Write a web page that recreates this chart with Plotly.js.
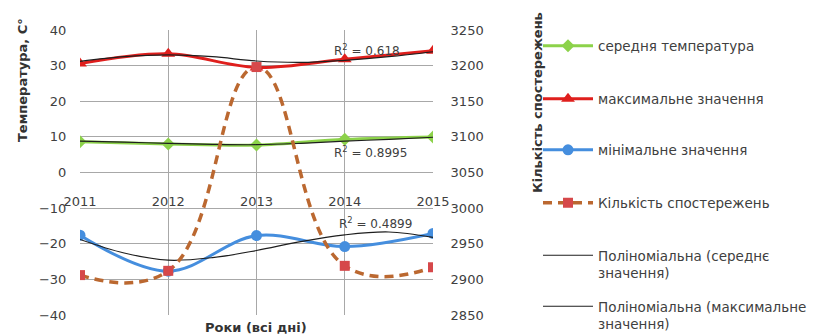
<!DOCTYPE html>
<html>
<head>
<meta charset="utf-8">
<script src="https://cdn.plot.ly/plotly-3.0.1.min.js"></script>
<style>html,body{margin:0;padding:0;background:#fff;}#chart{width:814px;height:336px;}</style>
</head>
<body>
<div id="chart"></div>
<script>
// Data
const years = [2011, 2012, 2013, 2014, 2015];
const meanTemp = [8.6, 8.0, 7.7, 9.3, 10.0];
const maxTemp = [30.6, 33.3, 29.5, 31.8, 34.2];
const minTemp = [-17.6, -27.7, -17.7, -20.8, -17.1];
const obsCount = [2906, 2912, 3198, 2919, 2917];

// Polynomial trendlines as they appear in the picture (sampled every half year)
const trendX = [2011, 2011.5, 2012, 2012.5, 2013, 2013.5, 2014, 2014.5, 2015];
const trendMean = [8.8, 8.5, 8.2, 7.9, 7.8, 8.2, 8.8, 9.3, 9.9];
const trendMax = [31.2, 32.5, 33.0, 32.5, 31.3, 30.9, 31.5, 32.5, 33.9];
const trendMin = [-18.8, -22.6, -24.6, -23.9, -21.9, -19.4, -17.5, -16.7, -18.2];

const yTicks = [-40, -30, -20, -10, 0, 10, 20, 30, 40];
const y2Ticks = [2850, 2900, 2950, 3000, 3050, 3100, 3150, 3200, 3250];

const names = {
  mean: 'середня температура',
  max: 'максимальне значення',
  min: 'мінімальне значення',
  count: 'Кількість спостережень',
  trMean: 'Поліноміальна (середнє<br>значення)',
  trMax: 'Поліноміальна (максимальне<br>значення)'
};
const r2Labels = ['R<sup>2</sup> = 0.618', 'R<sup>2</sup> = 0.8995', 'R<sup>2</sup> = 0.4899'];

const FONT = 'DejaVu Sans, sans-serif';
const TXT = '#404040';
const W = 814, H = 336;

const traces = [
  {x: years, y: meanTemp, name: names.mean, type: 'scatter', mode: 'lines+markers',
   line: {color: '#8cd24a', width: 3, shape: 'spline'}, marker: {symbol: 'diamond', size: 10, color: '#8cd24a'},
   legend: 'legend'},
  {x: years, y: maxTemp, name: names.max, type: 'scatter', mode: 'lines+markers',
   line: {color: '#df1f1d', width: 3, shape: 'spline'}, marker: {symbol: 'triangle-up', size: 12, color: '#df1f1d'},
   legend: 'legend2'},
  {x: years, y: minTemp, name: names.min, type: 'scatter', mode: 'lines+markers',
   line: {color: '#458ede', width: 3, shape: 'spline'}, marker: {symbol: 'circle', size: 11, color: '#458ede'},
   legend: 'legend3'},
  {x: trendX, y: trendMean, name: names.trMean, type: 'scatter', mode: 'lines',
   line: {color: '#1e1e1e', width: 1.2, shape: 'spline'}, legend: 'legend5'},
  {x: trendX, y: trendMax, name: names.trMax, type: 'scatter', mode: 'lines',
   line: {color: '#1e1e1e', width: 1.2, shape: 'spline'}, legend: 'legend6'},
  {x: trendX, y: trendMin, name: 'Поліноміальна (мінімальне значення)', type: 'scatter', mode: 'lines',
   line: {color: '#1e1e1e', width: 1.2, shape: 'spline'}, showlegend: false},
  {x: years, y: obsCount, name: names.count, type: 'scatter', mode: 'lines+markers', yaxis: 'y2',
   line: {color: '#bb6830', width: 3.5, shape: 'spline', smoothing: 1.25, dash: '9px,6px'},
   marker: {symbol: 'square', size: 10, color: '#d6484a'}, legend: 'legend4'}
];

// plot area: x 80..433, y 30..315
const L = 80, R = 433, T = 30, B = 315;
const px = v => (v - L) / (R - L);
const py = v => 1 - (v - T) / (B - T);

function leg(xPix, yPix, anchor) {
  return {x: xPix / W, y: 1 - yPix / H, xref: 'container', yref: 'container',
    xanchor: 'left', yanchor: anchor || 'middle',
    bgcolor: 'rgba(0,0,0,0)', borderwidth: 0, itemwidth: 50, valign: 'top',
    font: {family: FONT, size: 13.5, color: TXT}};
}

const layout = {
  width: W, height: H,
  margin: {l: L, r: W - R, t: T, b: H - B, pad: 0, autoexpand: false},
  paper_bgcolor: '#ffffff', plot_bgcolor: '#ffffff',
  font: {family: FONT, size: 13, color: TXT},
  xaxis: {
    range: [2011, 2015], tickvals: years, ticktext: years.map(String),
    anchor: 'free', position: 0.5, showline: false, zeroline: false,
    showgrid: true, gridcolor: '#a8a8a8', gridwidth: 1,
    ticks: 'outside', ticklen: 17, tickcolor: 'rgba(0,0,0,0)',
    tickfont: {family: FONT, size: 13, color: TXT}
  },
  yaxis: {
    range: [-40, 40], tickvals: yTicks, showgrid: true, gridcolor: '#a8a8a8', gridwidth: 1,
    zeroline: false, showline: false, ticks: 'outside', ticklen: 10, tickcolor: 'rgba(0,0,0,0)',
    tickfont: {family: FONT, size: 13, color: TXT}
  },
  yaxis2: {
    range: [2850, 3250], tickvals: y2Ticks, overlaying: 'y', side: 'right', showgrid: false,
    zeroline: false, showline: false, ticks: 'outside', ticklen: 14, tickcolor: 'rgba(0,0,0,0)',
    tickfont: {family: FONT, size: 13, color: TXT}
  },
  showlegend: true,
  legend: leg(538, 46),
  legend2: leg(538, 99),
  legend3: leg(538, 150),
  legend4: leg(538, 203),
  legend5: leg(538, 240, 'top'),
  legend6: leg(538, 291, 'top'),
  annotations: [
    {text: '<b>Температура, С°</b>', xref: 'paper', yref: 'paper', x: px(22), y: py(80),
     textangle: -90, showarrow: false, xanchor: 'center', yanchor: 'middle',
     font: {family: FONT, size: 13, color: '#333'}},
    {text: '<b>Кількість спостережень</b>', xref: 'paper', yref: 'paper', x: px(537), y: py(103),
     textangle: -90, showarrow: false, xanchor: 'center', yanchor: 'middle',
     font: {family: FONT, size: 13, color: '#333'}},
    {text: '<b>Роки (всі дні)</b>', xref: 'paper', yref: 'paper', x: px(256), y: py(327),
     showarrow: false, xanchor: 'center', yanchor: 'middle',
     font: {family: FONT, size: 13, color: '#333'}},
    {text: r2Labels[0], xref: 'paper', yref: 'paper', x: px(332), y: py(50), showarrow: false,
     xanchor: 'left', yanchor: 'middle', font: {family: FONT, size: 12, color: TXT}},
    {text: r2Labels[1], xref: 'paper', yref: 'paper', x: px(332), y: py(152), showarrow: false,
     xanchor: 'left', yanchor: 'middle', font: {family: FONT, size: 12, color: TXT}},
    {text: r2Labels[2], xref: 'paper', yref: 'paper', x: px(337), y: py(223), showarrow: false,
     xanchor: 'left', yanchor: 'middle', font: {family: FONT, size: 12, color: TXT}}
  ]
};

Plotly.newPlot('chart', traces, layout, {staticPlot: true, displayModeBar: false});
</script>
</body>
</html>
